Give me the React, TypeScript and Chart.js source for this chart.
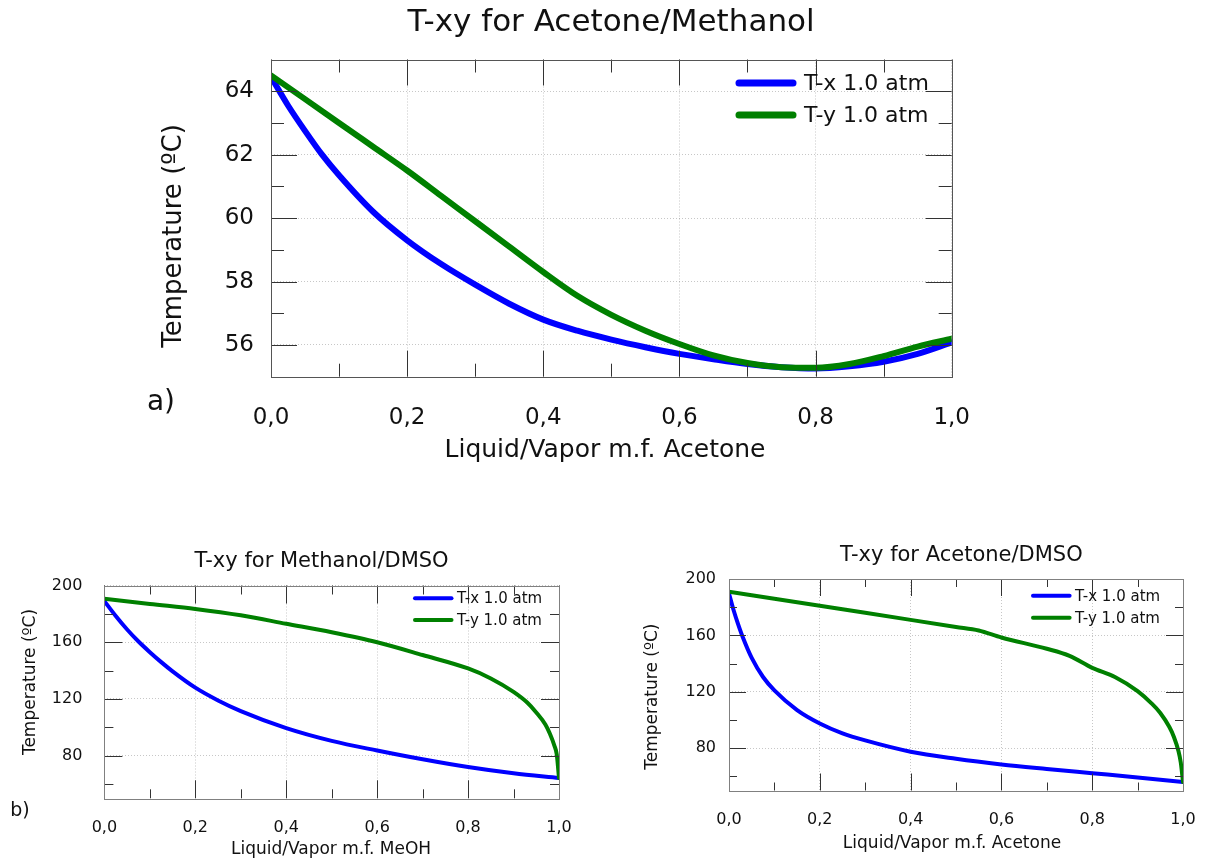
import React, { useEffect, useRef } from "react";
import { Chart, registerables } from "chart.js";

Chart.register(...registerables);

const FONT = "'DejaVu Sans', 'Liberation Sans', Arial, sans-serif";
const BLUE = "#0000ff";
const GREEN = "#008000";
const TEXT = "#111111";
const TICK = "#333333";
const GRID = "rgba(0,0,0,0.22)";

// ---------- a) Acetone / Methanol ----------
const amTxX = [0, 0.025, 0.05, 0.075, 0.1, 0.15, 0.2, 0.25, 0.3, 0.35, 0.4, 0.45, 0.5, 0.55, 0.6, 0.65, 0.7, 0.75, 0.8, 0.85, 0.9, 0.95, 1.0];
const amTxT = [64.45, 63.55, 62.75, 62.0, 61.35, 60.2, 59.3, 58.55, 57.9, 57.3, 56.8, 56.45, 56.17, 55.93, 55.72, 55.55, 55.4, 55.3, 55.26, 55.33, 55.47, 55.72, 56.08];
const amTyX = [0, 0.05, 0.1, 0.15, 0.2, 0.25, 0.3, 0.35, 0.4, 0.45, 0.5, 0.55, 0.6, 0.65, 0.7, 0.75, 0.8, 0.85, 0.9, 0.95, 1.0];
const amTyT = [64.5, 63.75, 63.0, 62.25, 61.5, 60.7, 59.9, 59.1, 58.3, 57.55, 56.95, 56.45, 56.03, 55.67, 55.43, 55.3, 55.28, 55.4, 55.65, 55.95, 56.2];

// ---------- b) Methanol / DMSO ----------
const mdTxX = [0, 0.025, 0.05, 0.075, 0.1, 0.125, 0.15, 0.2, 0.25, 0.3, 0.4, 0.5, 0.6, 0.7, 0.8, 0.9, 1.0];
const mdTxT = [189, 178.5, 169, 160.5, 153, 146, 139.5, 128, 119, 111.5, 99.5, 90.5, 83.7, 77.5, 72, 67.6, 64.3];
const mdTyX = [0, 0.1, 0.2, 0.3, 0.4, 0.5, 0.6, 0.7, 0.8, 0.85, 0.9, 0.93, 0.95, 0.97, 0.98, 0.99, 0.995, 1.0];
const mdTyT = [190.7, 187, 183.5, 179, 173, 167, 160, 151, 141.5, 134.5, 125, 117.5, 110.5, 102, 95.5, 87, 81, 64.3];

// ---------- c) Acetone / DMSO ----------
const adTxX = [0, 0.01, 0.02, 0.03, 0.05, 0.075, 0.1, 0.15, 0.2, 0.25, 0.3, 0.4, 0.5, 0.6, 0.7, 0.8, 0.9, 1.0];
const adTxT = [189.7, 178, 168, 159, 144, 130.5, 121, 107, 97.5, 90.5, 85.5, 77.5, 72.5, 68.5, 65.3, 62.3, 59.3, 56];
const adTyX = [0, 0.1, 0.2, 0.3, 0.4, 0.5, 0.55, 0.6, 0.7, 0.75, 0.8, 0.85, 0.9, 0.93, 0.95, 0.97, 0.98, 0.99, 0.995, 1.0];
const adTyT = [191, 186, 181, 176, 171, 166, 163.5, 158.5, 150.5, 145.5, 137, 130.5, 120.5, 112, 105, 95, 88, 78, 70, 56];

// ---------- ticks / labels ----------
const xTickValues = [0, 0.2, 0.4, 0.6, 0.8, 1.0];
const xMinorValues = [0.1, 0.3, 0.5, 0.7, 0.9];
const amYTicks = [56, 58, 60, 62, 64];
const amYMinor = [55, 57, 59, 61, 63, 65];
const dmsoYTicks = [80, 120, 160, 200];
const dmsoYMinor = [60, 100, 140, 180];
const legendLabels = ["T-x 1.0 atm", "T-y 1.0 atm"];
const yAxisTitle = "Temperature (ºC)";

type Series = { label: string; xs: number[]; ys: number[]; color: string; order: number };
type TextSpec = { text: string; x: number; y: number; size: number };
type PanelSpec = {
  canvas: { left: number; top: number; width: number; height: number };
  plot: { left: number; right: number; top: number; bottom: number };
  yMin: number;
  yMax: number;
  yTicks: number[];
  yMinor: number[];
  tickFont: number;
  xTickPad: number;
  yTickPad: number;
  lineWidth: number;
  frame: string;
  tickLen: { maj: number; min: number };
  title: TextSpec;
  xTitle: TextSpec;
  yTitle: TextSpec;
  letter?: TextSpec;
  legend: { x1: number; x2: number; textX: number; ys: number[]; size: number; width: number };
  series: Series[];
};

const panels: PanelSpec[] = [
  {
    canvas: { left: 130, top: 0, width: 876, height: 475 },
    plot: { left: 271, right: 951.7, top: 59.5, bottom: 376.7 },
    yMin: 55,
    yMax: 65,
    yTicks: amYTicks,
    yMinor: amYMinor,
    tickFont: 23,
    xTickPad: 28,
    yTickPad: 17,
    lineWidth: 6,
    frame: "#555555",
    tickLen: { maj: 26, min: 13 },
    title: { text: "T-xy for Acetone/Methanol", x: 611, y: 23, size: 31 },
    xTitle: { text: "Liquid/Vapor m.f. Acetone", x: 605, y: 450, size: 25 },
    yTitle: { text: yAxisTitle, x: 174.5, y: 236, size: 26 },
    letter: { text: "a)", x: 161, y: 403, size: 28 },
    legend: { x1: 739, x2: 793, textX: 804, ys: [83, 115], size: 22, width: 7 },
    series: [
      { label: legendLabels[0], xs: amTxX, ys: amTxT, color: BLUE, order: 2 },
      { label: legendLabels[1], xs: amTyX, ys: amTyT, color: GREEN, order: 1 },
    ],
  },
  {
    canvas: { left: 0, top: 535, width: 600, height: 326 },
    plot: { left: 104.4, right: 559, top: 585.5, bottom: 798.3 },
    yMin: 50,
    yMax: 200,
    yTicks: dmsoYTicks,
    yMinor: dmsoYMinor,
    tickFont: 16,
    xTickPad: 20,
    yTickPad: 22,
    lineWidth: 4,
    frame: "#808080",
    tickLen: { maj: 18, min: 9 },
    title: { text: "T-xy for Methanol/DMSO", x: 321.5, y: 561.5, size: 21 },
    xTitle: { text: "Liquid/Vapor m.f. MeOH", x: 331, y: 849.5, size: 17 },
    yTitle: { text: yAxisTitle, x: 30.6, y: 682, size: 17 },
    letter: { text: "b)", x: 20, y: 811, size: 19 },
    legend: { x1: 415, x2: 451.5, textX: 457, ys: [598.3, 620], size: 15, width: 4 },
    series: [
      { label: legendLabels[0], xs: mdTxX, ys: mdTxT, color: BLUE, order: 2 },
      { label: legendLabels[1], xs: mdTyX, ys: mdTyT, color: GREEN, order: 1 },
    ],
  },
  {
    canvas: { left: 620, top: 535, width: 586, height: 326 },
    plot: { left: 729, right: 1183, top: 579, bottom: 790.5 },
    yMin: 50,
    yMax: 200,
    yTicks: dmsoYTicks,
    yMinor: dmsoYMinor,
    tickFont: 16,
    xTickPad: 20,
    yTickPad: 13,
    lineWidth: 4,
    frame: "#808080",
    tickLen: { maj: 17, min: 8 },
    title: { text: "T-xy for Acetone/DMSO", x: 961.4, y: 555.7, size: 21 },
    xTitle: { text: "Liquid/Vapor m.f. Acetone", x: 952, y: 843.3, size: 17 },
    yTitle: { text: yAxisTitle, x: 653, y: 696.7, size: 17 },
    legend: { x1: 1033, x2: 1069.6, textX: 1075, ys: [595.7, 617.7], size: 15, width: 4 },
    series: [
      { label: legendLabels[0], xs: adTxX, ys: adTxT, color: BLUE, order: 2 },
      { label: legendLabels[1], xs: adTyX, ys: adTyT, color: GREEN, order: 1 },
    ],
  },
];

function makeDecor(p: PanelSpec) {
  const ox = p.canvas.left;
  const oy = p.canvas.top;
  return {
    id: "decor",
    afterDraw(chart: any) {
      const ctx: CanvasRenderingContext2D = chart.ctx;
      const { left, right, top, bottom } = chart.chartArea;
      const xs = chart.scales.x;
      const ys = chart.scales.y;
      ctx.save();
      ctx.strokeStyle = TICK;
      ctx.lineWidth = 1;
      const seg = (x1: number, y1: number, x2: number, y2: number) => {
        ctx.beginPath();
        ctx.moveTo(x1, y1);
        ctx.lineTo(x2, y2);
        ctx.stroke();
      };
      const xMark = (v: number, len: number) => {
        const px = Math.round(xs.getPixelForValue(v)) + 0.5;
        seg(px, bottom, px, bottom - len);
        seg(px, top, px, top + len);
      };
      const yMark = (v: number, len: number) => {
        const py = Math.round(ys.getPixelForValue(v)) + 0.5;
        seg(left, py, left + len, py);
        seg(right, py, right - len, py);
      };
      xTickValues.forEach((v) => xMark(v, p.tickLen.maj));
      xMinorValues.forEach((v) => xMark(v, p.tickLen.min));
      p.yTicks.forEach((v) => yMark(v, p.tickLen.maj));
      p.yMinor.forEach((v) => yMark(v, p.tickLen.min));
      // frame
      ctx.strokeStyle = p.frame;
      ctx.strokeRect(Math.round(left) + 0.5, Math.round(top) + 0.5, Math.round(right - left), Math.round(bottom - top));

      // texts
      ctx.fillStyle = TEXT;
      ctx.textAlign = "center";
      ctx.textBaseline = "middle";
      const put = (t: TextSpec) => {
        ctx.font = `${t.size}px ${FONT}`;
        ctx.fillText(t.text, t.x - ox, t.y - oy);
      };
      put(p.title);
      put(p.xTitle);
      if (p.letter) put(p.letter);
      ctx.save();
      ctx.translate(p.yTitle.x - ox, p.yTitle.y - oy);
      ctx.rotate(-Math.PI / 2);
      ctx.font = `${p.yTitle.size}px ${FONT}`;
      ctx.fillText(p.yTitle.text, 0, 0);
      ctx.restore();

      // legend
      ctx.lineCap = "round";
      p.series.forEach((s, i) => {
        const ly = p.legend.ys[i] - oy;
        ctx.strokeStyle = s.color;
        ctx.lineWidth = p.legend.width;
        seg(p.legend.x1 - ox, ly, p.legend.x2 - ox, ly);
        ctx.fillStyle = TEXT;
        ctx.textAlign = "left";
        ctx.font = `${p.legend.size}px ${FONT}`;
        ctx.fillText(s.label, p.legend.textX - ox, ly + 1);
      });
      ctx.restore();
    },
  };
}

function buildConfig(p: PanelSpec): any {
  const c = p.canvas;
  return {
    type: "line",
    data: {
      datasets: p.series.map((s) => ({
        label: s.label,
        data: s.xs.map((x, k) => ({ x, y: s.ys[k] })),
        borderColor: s.color,
        backgroundColor: s.color,
        borderWidth: p.lineWidth,
        pointRadius: 0,
        pointHoverRadius: 0,
        fill: false,
        cubicInterpolationMode: "monotone",
        borderCapStyle: "round",
        borderJoinStyle: "round",
        order: s.order,
      })),
    },
    options: {
      animation: false,
      responsive: false,
      maintainAspectRatio: false,
      devicePixelRatio: 1,
      layout: {
        padding: {
          left: 0,
          top: p.plot.top - c.top,
          right: c.left + c.width - p.plot.right,
          bottom: 0,
        },
      },
      plugins: {
        legend: { display: false },
        title: { display: false },
        tooltip: { enabled: false },
      },
      scales: {
        x: {
          type: "linear",
          min: 0,
          max: 1,
          afterBuildTicks: (s: any) => {
            s.ticks = xTickValues.map((v) => ({ value: v }));
          },
          afterFit: (s: any) => {
            s.height = c.top + c.height - p.plot.bottom;
          },
          ticks: {
            padding: 0,
            autoSkip: false,
            maxRotation: 0,
            color: TEXT,
            font: { family: FONT, size: p.tickFont },
            callback: (v: any) => Number(v).toFixed(1).replace(".", ","),
          },
          grid: {
            color: GRID,
            drawTicks: true,
            tickLength: p.xTickPad,
            tickColor: "rgba(0,0,0,0)",
            lineWidth: 1,
          },
          border: { display: false, dash: [1, 2] },
        },
        y: {
          type: "linear",
          min: p.yMin,
          max: p.yMax,
          afterBuildTicks: (s: any) => {
            s.ticks = p.yTicks.map((v) => ({ value: v }));
          },
          afterFit: (s: any) => {
            s.width = p.plot.left - c.left;
          },
          ticks: {
            padding: p.yTickPad,
            color: TEXT,
            font: { family: FONT, size: p.tickFont },
            callback: (v: any) => String(v),
          },
          grid: { color: GRID, drawTicks: false, lineWidth: 1 },
          border: { display: false, dash: [1, 2] },
        },
      },
    },
    plugins: [makeDecor(p)],
  };
}

function PanelChart({ p }: { p: PanelSpec }) {
  const ref = useRef<HTMLCanvasElement>(null);
  useEffect(() => {
    if (!ref.current) return;
    const chart = new Chart(ref.current, buildConfig(p));
    return () => chart.destroy();
  }, [p]);
  return (
    <canvas
      ref={ref}
      width={p.canvas.width}
      height={p.canvas.height}
      style={{
        position: "absolute",
        left: p.canvas.left,
        top: p.canvas.top,
        width: p.canvas.width,
        height: p.canvas.height,
      }}
    />
  );
}

export default function App() {
  return (
    <div
      style={{
        position: "absolute",
        left: 0,
        top: 0,
        width: 1206,
        height: 861,
        overflow: "hidden",
        background: "#ffffff",
      }}
    >
      {panels.map((p, i) => (
        <PanelChart key={i} p={p} />
      ))}
    </div>
  );
}
